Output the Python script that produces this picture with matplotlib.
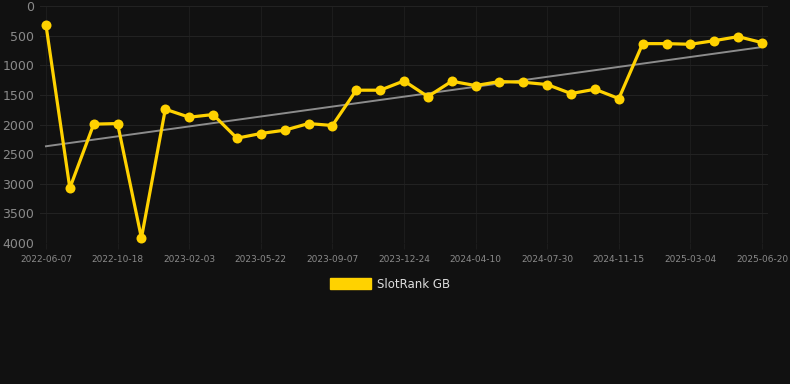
import numpy as np
import matplotlib
matplotlib.use("Agg")
import matplotlib.pyplot as plt
from matplotlib.patches import Patch

# Data
tick_labels = ["2022-06-07", "2022-10-18", "2023-02-03", "2023-05-22", "2023-09-07",
               "2023-12-24", "2024-04-10", "2024-07-30", "2024-11-15", "2025-03-04",
               "2025-06-20"]
rank_values = [320, 3073, 1994, 1984, 3916, 1742, 1877, 1832, 2231, 2152,
               2096, 1984, 2017, 1421, 1421, 1264, 1529, 1270, 1343, 1275,
               1287, 1326, 1478, 1405, 1562, 635, 635, 646, 585, 517, 618]
series_name = "SlotRank GB"

BG = "#111111"
GOLD = "#FFD200"
GRID = "#202020"
TXT = "#8a8a8a"

fig = plt.figure(figsize=(7.9, 3.84), dpi=100, facecolor=BG)
ax = fig.add_axes([40/790, 141/384, 728/790, 237/384], facecolor=BG)

x = np.arange(len(rank_values))
y = np.array(rank_values, dtype=float)

# trend line
coef = np.polyfit(x, y, 1)
ax.plot(x, np.polyval(coef, x), color="#8c8c8c", lw=1.4, zorder=2)

ax.plot(x, y, color=GOLD, lw=2.3, marker="o", ms=7.2, markeredgewidth=0,
        zorder=3, clip_on=False)

ax.set_ylim(4000, 0)
ax.set_xlim(-0.25, len(rank_values) - 0.75)
ax.set_yticks(np.arange(0, 4001, 500))
tick_pos = np.arange(0, len(rank_values), 3)
ax.set_xticks(tick_pos)
ax.set_xticklabels(tick_labels)

ax.grid(True, axis="y", color="#222222", lw=0.8)
ax.grid(True, axis="x", color="#1c1c1c", lw=0.8)
ax.set_axisbelow(True)
for s in ax.spines.values():
    s.set_visible(False)
ax.tick_params(axis="y", colors=TXT, labelsize=9, length=0, pad=4)
ax.tick_params(axis="x", colors=TXT, labelsize=6.5, length=4, color="#1c1c1c", pad=5)

fig.legend(handles=[Patch(facecolor=GOLD, edgecolor=GOLD)], labels=[series_name],
           loc="center", bbox_to_anchor=(390/790, 1 - 284/384), frameon=False,
           fontsize=8.5, labelcolor="#dddddd", handlelength=3.5, handleheight=1.0,
           handletextpad=0.5)

fig.savefig("out.png", dpi=100, facecolor=BG)
